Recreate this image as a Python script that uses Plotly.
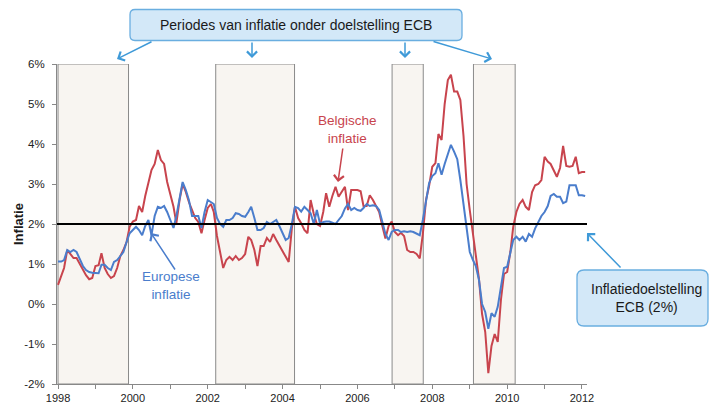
import pandas as pd
import plotly.graph_objects as go

# ---------------- data ----------------
start_month = "1998-01-01"
belgische_inflatie = [
    0.48, 0.7, 0.9, 1.35, 1.25, 1.15, 1.15, 1.0, 0.85, 0.72, 0.62, 0.65,
    0.95, 0.97, 1.27, 0.9, 0.75, 0.65, 0.7, 0.9, 1.2, 1.35, 1.55, 1.93,
    2.06, 2.1, 2.45, 2.3, 2.7, 3.02, 3.35, 3.5, 3.85, 3.6, 3.5, 3.05,
    2.7, 2.43, 2.02, 2.6, 3.0, 2.8, 2.55, 2.35, 2.15, 2.05, 1.77, 2.1,
    2.4, 2.5, 2.3, 1.7, 1.27, 0.9, 1.1, 1.18, 1.1, 1.2, 1.1, 1.15,
    1.25, 1.68, 1.6, 1.35, 0.95, 1.45, 1.45, 1.65, 1.55, 1.75, 1.6, 1.45,
    1.3, 1.18, 1.05, 1.9, 2.43, 2.15, 2.02, 1.85, 1.77, 2.6, 2.25, 2.0,
    1.95, 2.3, 2.77, 2.43, 2.7, 2.93, 2.68, 2.8, 2.93, 2.35, 2.85, 2.85,
    2.85, 2.82, 2.45, 2.45, 2.72, 2.6, 2.45, 2.3, 1.95, 1.64, 1.95, 2.06,
    1.8, 1.72, 1.78, 1.7, 1.35, 1.3, 1.3, 1.25, 1.14, 1.75, 2.6, 2.95,
    3.43, 3.52, 4.25, 4.1, 5.0, 5.6, 5.73, 5.31, 5.31, 5.1, 4.2, 3.0,
    2.35, 1.75, 1.1, 0.62, -0.25, -0.7, -1.73, -1.05, -0.75, -0.95, 0.1, 0.75,
    0.8, 1.3, 1.93, 2.3, 2.5, 2.6, 2.43, 2.35, 2.8, 2.97, 3.0, 3.1,
    3.68, 3.56, 3.5, 3.35, 3.18, 3.4, 3.95, 3.45, 3.43, 3.45, 3.68, 3.27,
    3.3, 3.3,
]
europese_inflatie = [
    1.06, 1.06, 1.1, 1.35, 1.3, 1.35, 1.3, 1.1, 0.95, 0.85, 0.8, 0.78,
    0.77, 0.77, 0.98, 0.98, 0.9, 0.85, 1.05, 1.1, 1.2, 1.3, 1.55, 1.77,
    1.85, 1.93, 1.85, 1.72, 1.95, 2.1, 1.72, 2.2, 2.43, 2.4, 2.45, 2.3,
    2.1, 1.9, 2.2, 2.6, 3.05, 2.85, 2.6, 2.2, 2.2, 2.2, 1.9, 2.3,
    2.6, 2.55, 2.5, 2.15, 2.0, 1.93, 2.1, 2.1, 2.15, 2.27, 2.25, 2.2,
    2.18, 2.3, 2.43, 2.15, 1.85, 1.85, 1.9, 2.05, 2.0, 2.05, 2.1, 1.95,
    1.75, 1.6, 1.65, 2.0, 2.43, 2.4, 2.31, 2.43, 2.35, 2.27, 2.0, 2.35,
    2.0, 2.05, 2.06, 2.06, 2.03, 2.0, 2.1, 2.2, 2.39, 2.5, 2.35, 2.4,
    2.35, 2.33, 2.4, 2.5, 2.45, 2.47, 2.45, 2.35, 2.05, 1.75, 1.6, 1.8,
    1.85, 1.85, 1.8, 1.82, 1.8, 1.82, 1.8, 1.77, 1.72, 2.1, 2.6, 3.02,
    3.2, 3.27, 3.52, 3.23, 3.5, 3.75, 3.98, 3.81, 3.62, 3.1, 2.5, 1.85,
    1.3, 1.1, 0.95, 0.6, 0.0, -0.2, -0.62, -0.23, -0.32, -0.07, 0.45, 0.9,
    0.93, 1.3, 1.6, 1.68, 1.6, 1.68, 1.56, 1.75, 1.68, 1.89, 2.05, 2.2,
    2.3, 2.45, 2.7, 2.75, 2.68, 2.68, 2.52, 2.56, 2.97, 2.97, 2.97, 2.72,
    2.72, 2.7,
]
ecb_doel = 2.0
periodes_onder_doel = [
    ("1998-01-01", "1999-11-20"),
    ("2002-03-20", "2004-04-27"),
    ("2006-12-05", "2007-10-05"),
    ("2009-02-06", "2010-03-20"),
]
jaar_ticks = list(range(1998, 2013))
y_ticks = [-2, -1, 0, 1, 2, 3, 4, 5, 6]
y_tick_labels = ["-2%", "-1%", "0%", "1%", "2%", "3%", "4%", "5%", "6%"]

maanden = pd.date_range(start_month, periods=len(belgische_inflatie), freq="MS")

# ---------------- layout geometry ----------------
W, H = 711, 405
L, R, T, B = 57, 587, 64, 384
FONT = "Liberation Sans"
RED = "#c8444d"
BLUE = "#4a7dcc"
ARROW = "#3f9ad8"
BOX_FILL = "#d3e8f8"
BOX_LINE = "#6aaee0"


def px(x):
    return (x - L) / (R - L)


def py(y):
    return (B - y) / (B - T)


def rrect(x0, y0, x1, y1, r):
    def p(x, y):
        return f"{px(x):.5f},{py(y):.5f}"
    return (
        f"M {p(x0 + r, y0)} L {p(x1 - r, y0)} Q {p(x1, y0)} {p(x1, y0 + r)} "
        f"L {p(x1, y1 - r)} Q {p(x1, y1)} {p(x1 - r, y1)} "
        f"L {p(x0 + r, y1)} Q {p(x0, y1)} {p(x0, y1 - r)} "
        f"L {p(x0, y0 + r)} Q {p(x0, y0)} {p(x0 + r, y0)} Z"
    )


fig = go.Figure()

fig.add_trace(go.Scatter(x=maanden, y=belgische_inflatie, mode="lines",
                         line=dict(color=RED, width=2), name="Belgische inflatie",
                         showlegend=False))
fig.add_trace(go.Scatter(x=maanden, y=europese_inflatie, mode="lines",
                         line=dict(color=BLUE, width=2), name="Europese inflatie",
                         showlegend=False))

shapes = []
for a, b in periodes_onder_doel:
    shapes.append(dict(type="rect", xref="x", yref="y", x0=a, x1=b, y0=-2, y1=6,
                       fillcolor="#f8f5f1", line=dict(color="#8a8a8a", width=1),
                       layer="below"))
shapes.append(dict(type="line", xref="paper", yref="y", x0=0, x1=1, y0=ecb_doel, y1=ecb_doel,
                   line=dict(color="black", width=2.2), layer="above"))
shapes.append(dict(type="path", xref="paper", yref="paper", path=rrect(130, 9.5, 462, 40.5, 5),
                   fillcolor=BOX_FILL, line=dict(color=BOX_LINE, width=1.3)))
shapes.append(dict(type="path", xref="paper", yref="paper", path=rrect(577, 270, 708, 326, 7),
                   fillcolor=BOX_FILL, line=dict(color=BOX_LINE, width=1.3)))

annotations = []


def arrow(x_tip, y_tip, x_tail, y_tail, color, width=1.5):
    annotations.append(dict(xref="paper", yref="paper", x=px(x_tip), y=py(y_tip),
                            ax=x_tail - x_tip, ay=y_tail - y_tip, axref="pixel", ayref="pixel",
                            text="", showarrow=True, arrowhead=4, arrowsize=1.3,
                            arrowwidth=width, arrowcolor=color))


arrow(117, 59, 153, 41, ARROW)
arrow(252, 58, 252, 41, ARROW)
arrow(405, 58, 405, 41, ARROW)
arrow(492, 59, 432, 41, ARROW)
arrow(587, 233, 622, 269, ARROW)
arrow(338, 182, 343, 147, RED)
arrow(151, 233, 176, 271, BLUE)


def label(x, y, text, size, color, angle=0):
    annotations.append(dict(xref="paper", yref="paper", x=px(x), y=py(y),
                            xanchor="center", yanchor="middle", text=text,
                            showarrow=False, textangle=angle,
                            font=dict(family=FONT, size=size, color=color)))


label(296, 25, "Periodes van inflatie onder doelstelling ECB", 14, "#1a1a1a")
label(646, 298, "Inflatiedoelstelling<br>ECB (2%)", 14, "#1a1a1a")
label(347, 129, "Belgische<br>inflatie", 13.5, RED)
label(171, 285, "Europese<br>inflatie", 13.5, BLUE)
label(18, 224, "<b>Inflatie</b>", 13, "#1a1a1a", angle=-90)

fig.update_layout(
    width=W, height=H,
    margin=dict(l=L, r=W - R, t=T, b=H - B, pad=0, autoexpand=False),
    paper_bgcolor="white", plot_bgcolor="white",
    shapes=shapes, annotations=annotations,
    font=dict(family=FONT, size=11, color="#222"),
    xaxis=dict(
        range=["1997-12-22", "2012-02-19"],
        tickvals=[f"{j}-01-01" for j in jaar_ticks],
        ticktext=[str(j) if j % 2 == 0 else "" for j in jaar_ticks],
        ticks="outside", ticklen=4, tickcolor="#888",
        showline=True, linecolor="#888", linewidth=1,
        showgrid=False, zeroline=False, automargin=False,
        ticklabelstandoff=0,
        tickfont=dict(family=FONT, size=11, color="#222"),
    ),
    yaxis=dict(
        range=[-2, 6], tickvals=y_ticks, ticktext=y_tick_labels,
        ticks="outside", ticklen=4, tickcolor="#888",
        showline=True, linecolor="#888", linewidth=1,
        showgrid=False, zeroline=False, automargin=False,
        ticklabelstandoff=5,
        tickfont=dict(family=FONT, size=11.5, color="#222"),
    ),
)

fig.write_html("out.html", config={"displayModeBar": False},
               post_script="document.body.style.margin='0';")
